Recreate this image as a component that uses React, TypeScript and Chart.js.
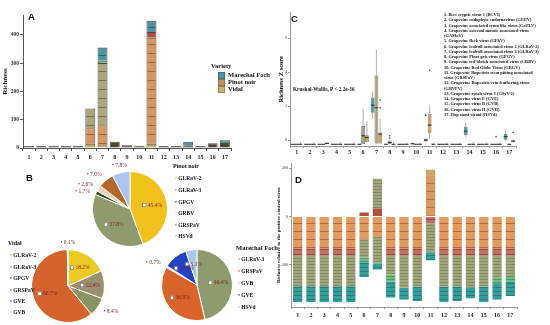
import React, { useEffect, useRef } from 'react';
import { Chart, registerables } from 'chart.js';

Chart.register(...registerables);

const SERIF = "'Liberation Serif', 'Times New Roman', serif";
const SANS = "'Liberation Sans', Arial, sans-serif";
Chart.defaults.font.family = SERIF;

const categories = ['1', '2', '3', '4', '5', '6', '7', '8', '9', '10', '11', '12', '13', '14', '15', '16', '17'];

// ---------- Panel A : richness, stacked layers (bottom -> top) ----------
const aBase = [4, 4, 8, 4, 6, 15, 10, 22, 10, 8, 15, 4, 6, 10, 7, 17, 18];
const aPinot = [0, 0, 0, 0, 0, 55, 70, 0, 0, 0, 375, 0, 0, 0, 0, 0, 0];
const aOlive = [0, 0, 0, 0, 0, 70, 220, 0, 0, 0, 0, 0, 0, 0, 0, 0, 0];
const aGreenBand = [0, 0, 0, 0, 0, 0, 8, 0, 0, 0, 0, 0, 0, 0, 0, 0, 0];
const aRedBand = [0, 0, 0, 0, 0, 0, 0, 0, 0, 0, 20, 0, 0, 0, 0, 0, 0];
const aFoch = [0, 0, 0, 0, 0, 0, 47, 0, 0, 0, 40, 0, 0, 12, 0, 0, 9];
const aYTicks = [0, 100, 200, 300, 400];
const varietyNames = ['Marechal Foch', 'Pinot noir', 'Vidal'];

// ---------- Panel B : pies ----------
const pinotViruses = ['GLRaV-2', 'GLRaV-3', 'GPGV', 'GRBV', 'GRSPaV', 'HSVd'];
const pinotShare = [45.4, 37.8, 1.7, 2.6, 7.0, 7.8];
const pinotLabels = ['45.4%', '37.8%', '1.7%', '2.6%', '7.0%', '7.8%'];
const vidalViruses = ['GLRaV-2', 'GLRaV-3', 'GPGV', 'GRSPaV', 'GVE', 'GVB'];
const vidalShare = [18.2, 12.4, 8.4, 60.7, 0.2, 0.1];
const vidalLabels = ['18.2%', '12.4%', '8.4%', '60.7%', '', '0.1%'];
const fochSliceViruses = ['GLRaV-3', 'GRSPaV', 'GVE', 'GVB', 'HSVd'];
const fochShare = [46.4, 36.9, 0.7, 10.9, 5.1];
const fochLabels = ['46.4%', '36.9%', '0.7%', '10.9%', '5.1%'];
const fochLegend = ['GLRaV-3', 'GRSPaV', 'GVB', 'GVE', 'HSVd'];

// ---------- Panel C : Z score boxes ----------
const fochQ1 = [-0.25, -0.25, -0.25, -0.25, -0.25, -0.25, 1.6, -0.25, -0.25, -0.25, -0.08, -0.25, -0.25, 0.28, -0.25, -0.25, 0.02];
const fochQ3 = [-0.25, -0.25, -0.25, -0.25, -0.25, -0.25, 2.5, -0.25, -0.25, -0.18, 0.08, -0.25, -0.25, 0.8, -0.25, -0.25, 0.36];
const fochMed = [-0.25, -0.25, -0.25, -0.25, -0.25, -0.25, 2.05, -0.25, -0.25, -0.22, 0.0, -0.25, -0.25, 0.52, -0.25, -0.25, 0.2];
const fochLo = [-0.25, -0.25, -0.25, -0.25, -0.25, -0.25, 1.25, -0.25, -0.25, -0.25, -0.1, -0.25, -0.25, 0.15, -0.25, -0.25, -0.05];
const fochHi = [-0.25, -0.25, -0.25, -0.25, -0.25, -0.25, 2.85, -0.25, -0.25, -0.15, 0.12, -0.25, -0.25, 1.0, -0.25, -0.25, 0.55];
const fochOut = [[], [], [], [], [], [], [], [], [], [], [1.45], [], [], [], [], [], []];

const pinotQ1 = [-0.25, -0.25, -0.25, -0.25, -0.25, -0.25, -0.2, -0.22, -0.25, -0.25, 0.4, -0.25, -0.25, -0.25, -0.25, -0.25, -0.25];
const pinotQ3 = [-0.25, -0.25, -0.25, -0.25, -0.25, 0.82, 3.8, -0.05, -0.25, -0.25, 1.55, -0.25, -0.25, -0.25, -0.25, -0.25, -0.25];
const pinotMed = [-0.25, -0.25, -0.25, -0.25, -0.25, 0.25, 1.9, -0.15, -0.25, -0.25, 0.88, -0.25, -0.25, -0.25, -0.25, -0.25, -0.25];
const pinotLo = [-0.25, -0.25, -0.25, -0.25, -0.25, -0.25, -0.25, -0.25, -0.25, -0.25, 0.05, -0.25, -0.25, -0.25, -0.25, -0.25, -0.25];
const pinotHi = [-0.25, -0.25, -0.25, -0.25, -0.25, 1.85, 5.3, 0.0, -0.25, -0.25, 2.05, -0.25, -0.25, -0.25, -0.25, -0.25, -0.25];
const pinotOut = [[], [], [], [], [], [], [], [0.25, 0.12], [], [], [4.1], [], [], [], [], [0.2], []];

const vidalQ1 = [-0.25, -0.25, -0.25, -0.25, -0.25, -0.12, -0.2, -0.25, -0.25, -0.25, -0.25, -0.25, -0.25, -0.25, -0.25, -0.25, -0.12];
const vidalQ3 = [-0.25, -0.25, -0.15, -0.25, -0.25, 0.28, 0.45, -0.25, -0.25, -0.25, -0.25, -0.25, -0.25, -0.25, -0.25, -0.25, 0.0];
const vidalMed = [-0.25, -0.25, -0.2, -0.25, -0.25, 0.15, 0.35, -0.25, -0.25, -0.25, -0.25, -0.25, -0.25, -0.25, -0.25, -0.25, -0.06];
const vidalLo = [-0.25, -0.25, -0.25, -0.25, -0.25, -0.15, -0.25, -0.25, -0.25, -0.25, -0.25, -0.25, -0.25, -0.25, -0.25, -0.25, -0.15];
const vidalHi = [-0.12, -0.12, -0.12, -0.12, -0.12, 1.1, 1.25, -0.1, -0.15, -0.15, -0.15, -0.15, -0.15, -0.1, -0.15, -0.15, 0.05];
const vidalOut = [[], [], [], [], [], [], [2.35, 1.9], [], [], [], [], [], [], [], [], [], [0.45]];
const cYTicks = [0, 2, 4, 6];

const cLegendLines = [
  '1. Beet cryptic virus 1 (BCV1)',
  '2. Grapevine endophyte endornavirus (GEEV)',
  '3. Grapevine associated tymo like virus (GaTLV)',
  '4. Grapevine asteroid mosaic associated virus',
  '(GAMaV)',
  '5. Grapevine fleck virus (GFkV)',
  '6. Grapevine leafroll associated virus 2 (GLRaV-2)',
  '7. Grapevine leafroll associated virus 3 (GLRaV-3)',
  '8. Grapevine Pinot gris virus (GPGV)',
  '9. Grapevine red blotch associated virus (GRBV)',
  '10. Grapevine Red Globe Virus (GRGV)',
  '11. Grapevine Rupestris stem pitting associated',
  'virus (GRSPaV)',
  '12. Grapevine Rupestris vein feathering virus',
  '(GRVFV)',
  '13. Grapevine syrah virus 1 (GSyV-1)',
  '14. Grapevine virus E (GVE)',
  '15. Grapevine virus B (GVB)',
  '16. Grapevine virus H (GVH)',
  '17. Hop stunt viroid (HSVd)',
];

// ---------- Panel D : richness relative to positive control ----------
const dPosRed = [0, 0, 0, 0, 0, 17, 33, 0, 0, 0, 4, 0, 0, 0, 0, 0, 0];
const dPosOlive = [0, 0, 0, 0, 0, 0, 123, 0, 0, 0, 0, 0, 0, 0, 0, 0, 0];
const dPosOrange = [0, 0, 0, 0, 0, 0, 0, 0, 0, 0, 165, 0, 0, 0, 0, 0, 0];
const dPosKhaki = [0, 0, 0, 0, 0, 0, 0, 0, 0, 0, 25, 0, 0, 0, 0, 0, 0];
const dOrange = [-132, -132, -132, -132, -132, -95, -85, -132, -132, -132, 0, -132, -132, -132, -132, -132, -132];
const dRed = [-29, -29, -29, -29, -29, 0, 0, -29, -29, -29, -29, -29, -29, -29, -29, -29, -29];
const dOlive = [-128, -128, -128, -128, -128, -75, -105, -79, -134, -129, -119, -129, -129, -132, -129, -91, -86];
const dGreen = [0, 0, 0, 0, 0, -20, -7, -30, 0, 0, 0, 0, 0, 0, 0, -25, -24];
const dTeal = [-65, -65, -65, -65, -65, -61, -23, -66, -49, -60, -33, -64, -60, -46, -64, -67, -58];
const dYTicks = [-200, 0, 200];

// ---------- colours ----------
const virusColor: Record<string, string> = {
  'GLRaV-2': '#f0c21e',
  'GLRaV-3': '#8f9b6d',
  GPGV: '#2c4d1c',
  GRBV: '#f3cdb4',
  GRSPaV: '#d6642c',
  HSVd: '#aec4f2',
  GVE: '#2a48c8',
  GVB: '#e3c6d0',
};
const pinotColors = ['#f2c21c', '#8f9b6d', '#2c4d1c', '#f3cdb4', '#b46a2e', '#aec4f2'];
const vidalColors = ['#ecc923', '#9b8f6f', '#8a9460', '#d5642c', '#2a48c8', '#e6c9d2'];
const fochColors = ['#8e9b6c', '#d8642c', '#f4a8bc', '#2443c4', '#a9c9f2'];

function stripes(base: string, line: string, period: number, lw = 1): any {
  const c = document.createElement('canvas');
  c.width = 4;
  c.height = period;
  const g = c.getContext('2d');
  if (!g) return base;
  g.fillStyle = base;
  g.fillRect(0, 0, 4, period);
  g.fillStyle = line;
  g.fillRect(0, period - lw, 4, lw);
  return g.createPattern(c, 'repeat') || base;
}

const aTotals = aBase.map((v, i) => v + aPinot[i] + aOlive[i] + aGreenBand[i] + aRedBand[i] + aFoch[i]);

function buildA(cv: HTMLCanvasElement) {
  const common = {
    borderColor: 'rgba(55,45,30,0.85)',
    borderWidth: 1,
    categoryPercentage: 0.85,
    barPercentage: 0.96,
  };
  return new Chart(cv, {
    type: 'bar',
    data: {
      labels: categories,
      datasets: [
        { ...common, label: 'Vidal', data: aBase, minBarLength: 2, backgroundColor: (c: any) => (aTotals[c.dataIndex] < 30 ? '#4b4630' : '#c6aa5e') },
        { ...common, label: 'Pinot noir', data: aPinot, backgroundColor: stripes('#d8955d', '#a0603a', 9) },
        { ...common, label: 'Vidal (GLRaV-3)', data: aOlive, backgroundColor: stripes('#aaa67e', '#74704f', 9) },
        { ...common, label: 'band', data: aGreenBand, backgroundColor: '#7fc58a' },
        { ...common, label: 'band2', data: aRedBand, backgroundColor: '#b54a3c' },
        { ...common, label: 'Marechal Foch', data: aFoch, backgroundColor: stripes('#4a95a0', '#2c6670', 7) },
      ] as any,
    },
    options: {
      responsive: false,
      animation: false,
      layout: { padding: { left: 0, right: 44, top: 15, bottom: 0 } },
      plugins: { legend: { display: false }, tooltip: { enabled: false } },
      scales: {
        x: {
          stacked: true,
          grid: { drawOnChartArea: false, tickLength: 3, color: '#555' },
          border: { color: '#555' },
          ticks: { font: { family: SERIF, size: 6, weight: 'bold' }, color: '#222', padding: 3, maxRotation: 0, autoSkip: false },
          afterFit: (s: any) => { s.height = 17; },
        },
        y: {
          stacked: true,
          min: 0,
          max: 470,
          grid: { drawOnChartArea: false, tickLength: 3, color: '#555' },
          border: { color: '#555' },
          ticks: { font: { family: SERIF, size: 5.5, weight: 'bold' }, color: '#333', padding: 1 },
          afterBuildTicks: (s: any) => { s.ticks = aYTicks.map((v) => ({ value: v })); },
          title: { display: true, text: 'Richness', font: { family: SERIF, size: 7, weight: 'bold' }, color: '#111', padding: { top: 1, bottom: 0 } },
          afterFit: (s: any) => { s.width = 23; },
        },
      },
    } as any,
  });
}

const cStats = [
  { q1: fochQ1, q3: fochQ3, med: fochMed, lo: fochLo, hi: fochHi, out: fochOut },
  { q1: pinotQ1, q3: pinotQ3, med: pinotMed, lo: pinotLo, hi: pinotHi, out: pinotOut },
  { q1: vidalQ1, q3: vidalQ3, med: vidalMed, lo: vidalLo, hi: vidalHi, out: vidalOut },
];

const boxPlugin = {
  id: 'boxExtras',
  afterDatasetsDraw(chart: any) {
    const ctx = chart.ctx;
    const ys = chart.scales.y;
    const px = (v: number) => ys.getPixelForValue(v);
    const seg = (x1: number, y1: number, x2: number, y2: number) => {
      ctx.beginPath();
      ctx.moveTo(x1, y1);
      ctx.lineTo(x2, y2);
      ctx.stroke();
    };
    cStats.forEach((st, di) => {
      const meta = chart.getDatasetMeta(di);
      meta.data.forEach((bar: any, i: number) => {
        const { x, width } = bar.getProps(['x', 'width'], true);
        ctx.save();
        ctx.strokeStyle = '#8c8c8c';
        ctx.lineWidth = 0.7;
        if (st.hi[i] > st.q3[i]) seg(x, px(st.q3[i]), x, px(st.hi[i]));
        if (st.lo[i] < st.q1[i]) seg(x, px(st.q1[i]), x, px(st.lo[i]));
        ctx.strokeStyle = '#333';
        ctx.lineWidth = 1.1;
        seg(x - width / 2, px(st.med[i]), x + width / 2, px(st.med[i]));
        ctx.fillStyle = '#444';
        (st.out[i] as number[]).forEach((v) => {
          ctx.beginPath();
          ctx.arc(x, px(v), 0.8, 0, Math.PI * 2);
          ctx.fill();
        });
        ctx.restore();
      });
    });
  },
};

function buildC(cv: HTMLCanvasElement) {
  const common = { borderColor: 'rgba(60,60,60,0.8)', borderWidth: 0.7, categoryPercentage: 0.85, barPercentage: 1, borderSkipped: false };
  return new Chart(cv, {
    type: 'bar',
    data: {
      labels: categories,
      datasets: [
        { ...common, label: varietyNames[0], data: fochQ1.map((q, i) => [q, fochQ3[i]]), backgroundColor: 'rgba(40,135,150,0.85)' },
        { ...common, label: varietyNames[1], data: pinotQ1.map((q, i) => [q, pinotQ3[i]]), backgroundColor: (c: any) => (c.dataIndex === 10 ? '#d49a55' : '#a9a27c') },
        { ...common, label: varietyNames[2], data: vidalQ1.map((q, i) => [q, vidalQ3[i]]), backgroundColor: '#c9a953' },
      ] as any,
    },
    options: {
      responsive: false,
      animation: false,
      layout: { padding: { left: 0, right: 34, top: 12.5, bottom: 0 } },
      plugins: { legend: { display: false }, tooltip: { enabled: false } },
      scales: {
        x: {
          grid: { drawOnChartArea: false, tickLength: 2, color: '#999' },
          border: { color: '#999' },
          ticks: { font: { family: SERIF, size: 6, weight: 'bold' }, color: '#222', padding: 1, maxRotation: 0, autoSkip: false },
          afterFit: (s: any) => { s.height = 14; },
        },
        y: {
          min: -0.35,
          max: 7.5,
          grid: { drawOnChartArea: false, tickLength: 2, color: '#999' },
          border: { color: '#999' },
          ticks: { font: { family: SERIF, size: 4, weight: 'bold' }, color: '#777', padding: 1 },
          afterBuildTicks: (s: any) => { s.ticks = cYTicks.map((v) => ({ value: v })); },
          title: { display: true, text: 'Richness Z score', font: { family: SERIF, size: 6.5, weight: 'bold' }, color: '#111', padding: { top: 2, bottom: 0 } },
          afterFit: (s: any) => { s.width = 15; },
        },
      },
    } as any,
    plugins: [boxPlugin],
  });
}

function buildD(cv: HTMLCanvasElement) {
  const common = { borderWidth: 0, categoryPercentage: 0.75, barPercentage: 0.93 };
  return new Chart(cv, {
    type: 'bar',
    data: {
      labels: categories,
      datasets: [
        { ...common, label: 'p1', data: dPosRed, backgroundColor: '#b0503e' },
        { ...common, label: 'p2', data: dPosOlive, backgroundColor: stripes('#a2a57b', '#848a62', 3) },
        { ...common, label: 'p3', data: dPosOrange, backgroundColor: stripes('#dc9b5e', '#b8724a', 8) },
        { ...common, label: 'p4', data: dPosKhaki, backgroundColor: '#c9a95c' },
        { ...common, label: 'n1', data: dOrange, backgroundColor: stripes('#e29a5e', '#b4683e', 8) },
        { ...common, label: 'n2', data: dRed, backgroundColor: stripes('#c07060', '#9a4a3c', 5) },
        { ...common, label: 'n3', data: dOlive, backgroundColor: stripes('#a2a67c', '#848a62', 3) },
        { ...common, label: 'n4', data: dGreen, backgroundColor: stripes('#6cbf80', '#4c9a5e', 3) },
        { ...common, label: 'n5', data: dTeal, backgroundColor: stripes('#33a09c', '#2a7a7e', 4) },
      ] as any,
    },
    options: {
      responsive: false,
      animation: false,
      layout: { padding: { left: 0, right: 33, top: 2.6, bottom: 0 } },
      plugins: { legend: { display: false }, tooltip: { enabled: false } },
      scales: {
        x: {
          stacked: true,
          grid: { drawOnChartArea: false, tickLength: 2, color: '#999' },
          border: { color: '#999' },
          ticks: { font: { family: SERIF, size: 6, weight: 'bold' }, color: '#222', padding: 3, maxRotation: 0, autoSkip: false },
          afterFit: (s: any) => { s.height = 18; },
        },
        y: {
          stacked: true,
          min: -375,
          max: 220,
          grid: { drawOnChartArea: false, tickLength: 2, color: '#999' },
          border: { color: '#999' },
          ticks: { font: { family: SERIF, size: 4, weight: 'bold' }, color: '#777', padding: 1 },
          afterBuildTicks: (s: any) => { s.ticks = dYTicks.map((v) => ({ value: v })); },
          title: { display: true, text: 'Richness relative to the positive control virus', font: { family: SERIF, size: 5, weight: 'bold' }, color: '#111', padding: { top: 1, bottom: 0 } },
          afterFit: (s: any) => { s.width = 16; },
        },
      },
    } as any,
  });
}

function pieLabelPlugin(labels: string[], values: number[], threshold: number) {
  return {
    id: 'pieLabels',
    afterDatasetsDraw(chart: any) {
      const ctx = chart.ctx;
      const meta = chart.getDatasetMeta(0);
      const outs: any[] = [];
      meta.data.forEach((arc: any, i: number) => {
        const txt = labels[i];
        if (!txt) return;
        const { x, y, startAngle, endAngle, outerRadius } = arc.getProps(['x', 'y', 'startAngle', 'endAngle', 'outerRadius'], true);
        const mid = (startAngle + endAngle) / 2;
        if (values[i] >= threshold) {
          const r = outerRadius * 0.6;
          const cx = x + Math.cos(mid) * r;
          const cy = y + Math.sin(mid) * r;
          ctx.save();
          ctx.font = `5.5px ${SERIF}`;
          const w = ctx.measureText(txt).width;
          const left = cx - (w + 5.5) / 2;
          ctx.fillStyle = '#fff';
          ctx.fillRect(left, cy - 2, 4, 4);
          ctx.strokeStyle = '#555';
          ctx.lineWidth = 0.6;
          ctx.strokeRect(left + 0.3, cy - 1.7, 3.4, 3.4);
          ctx.fillStyle = '#7a1c1c';
          ctx.textBaseline = 'middle';
          ctx.textAlign = 'left';
          ctx.fillText(txt, left + 5.5, cy + 0.3);
          ctx.restore();
        } else {
          const rr = outerRadius + 7;
          const dx = Math.cos(mid) * rr;
          outs.push({ tx: x + dx, ty: y + Math.sin(mid) * rr, dx, r: outerRadius, txt });
        }
      });
      outs.sort((a, b) => a.ty - b.ty);
      for (let k = 1; k < outs.length; k++) {
        if (outs[k].ty - outs[k - 1].ty < 7) outs[k].ty = outs[k - 1].ty + 7;
      }
      ctx.save();
      ctx.font = `5.5px ${SERIF}`;
      ctx.textBaseline = 'middle';
      outs.forEach((o) => {
        ctx.textAlign = o.dx > 0.3 * o.r ? 'left' : o.dx < -0.3 * o.r ? 'right' : 'center';
        ctx.fillStyle = '#6a2a2a';
        ctx.fillText('\u2022 ' + o.txt, o.tx, o.ty);
      });
      ctx.restore();
    },
  };
}

function makePie(cv: HTMLCanvasElement, names: string[], values: number[], colors: string[], labels: string[], threshold: number, padding: any) {
  return new Chart(cv, {
    type: 'pie',
    data: { labels: names, datasets: [{ data: values, backgroundColor: colors, borderColor: '#ffffff', borderWidth: 1 }] },
    options: {
      responsive: false,
      animation: false,
      layout: { padding },
      plugins: { legend: { display: false }, tooltip: { enabled: false } },
    } as any,
    plugins: [pieLabelPlugin(labels, values, threshold)],
  });
}

const buildPinot = (cv: HTMLCanvasElement) => makePie(cv, pinotViruses, pinotShare, pinotColors, pinotLabels, 10, { left: 22, right: 22, top: 11, bottom: 13 });
const buildVidal = (cv: HTMLCanvasElement) => makePie(cv, vidalViruses, vidalShare, vidalColors, vidalLabels, 10, { left: 11, right: 20, top: 11, bottom: 2 });
const buildFoch = (cv: HTMLCanvasElement) => makePie(cv, fochSliceViruses, fochShare, fochColors, fochLabels, 5, { left: 21, right: 7, top: 11, bottom: 4 });

function ChartBox({ x, y, w, h, build }: { x: number; y: number; w: number; h: number; build: (cv: HTMLCanvasElement) => Chart }) {
  const ref = useRef<HTMLCanvasElement | null>(null);
  useEffect(() => {
    const cv = ref.current;
    if (!cv) return;
    const chart = build(cv);
    return () => chart.destroy();
  }, [build]);
  return <canvas ref={ref} width={w} height={h} style={{ position: 'absolute', left: x, top: y, width: w, height: h }} />;
}

function Txt({ x, y, size, children, bold = true, family = SERIF, color = '#111' }: any) {
  return (
    <div
      style={{
        position: 'absolute',
        left: x,
        top: y - size * 0.64,
        fontFamily: family,
        fontSize: size,
        fontWeight: bold ? 700 : 400,
        lineHeight: `${size * 1.2}px`,
        color,
        whiteSpace: 'nowrap',
      }}
    >
      {children}
    </div>
  );
}

function PieLegend({ x, y, title, titleSize, items, step }: { x: number; y: number; title: string; titleSize: number; items: string[]; step: number }) {
  return (
    <>
      <Txt x={x - 2} y={y} size={titleSize}>{title}</Txt>
      {items.map((name, i) => (
        <Txt key={name} x={x} y={y + 12 + i * step} size={5.5}>
          <span style={{ color: virusColor[name] || '#888' }}>{'\u2022'}</span>
          {' ' + name}
        </Txt>
      ))}
    </>
  );
}

const legendAColors = ['#4a96a0', '#c69061', '#cdb366'];

export default function App() {
  return (
    <div style={{ position: 'fixed', left: 0, top: 0, width: 550, height: 325, background: '#fff', overflow: 'hidden' }}>
      <ChartBox x={0} y={0} w={275} h={165} build={buildA} />
      <ChartBox x={275} y={0} w={275} h={160} build={buildC} />
      <ChartBox x={275} y={160} w={275} h={165} build={buildD} />
      <ChartBox x={70} y={160} w={120} h={100} build={buildPinot} />
      <ChartBox x={20} y={238} w={105} h={87} build={buildVidal} />
      <ChartBox x={140} y={238} w={100} h={87} build={buildFoch} />

      <Txt x={28} y={17.5} size={9.5} family={SANS}>A</Txt>
      <Txt x={26} y={178.5} size={9.5} family={SANS}>B</Txt>
      <Txt x={291} y={19.5} size={9.5} family={SANS}>C</Txt>
      <Txt x={295} y={180} size={9.5} family={SANS}>D</Txt>

      {/* Panel A legend */}
      <Txt x={211} y={66} size={6.5}>Variety</Txt>
      {varietyNames.map((name, i) => (
        <React.Fragment key={name}>
          <div style={{ position: 'absolute', left: 218, top: 72 + i * 7, width: 7, height: 7, background: legendAColors[i], boxShadow: 'inset 0 0 0 0.5px rgba(40,40,40,0.6)' }} />
          <Txt x={228} y={75.5 + i * 7} size={6.5}>{name}</Txt>
        </React.Fragment>
      ))}

      {/* Panel B legends */}
      <PieLegend x={175} y={167} title="Pinot noir" titleSize={6} items={pinotViruses} step={11.6} />
      <PieLegend x={10} y={244} title="Vidal" titleSize={6} items={vidalViruses} step={11.4} />
      <PieLegend x={238} y={248} title="Marechal Foch" titleSize={6.5} items={fochLegend} step={11.8} />

      {/* Panel C annotations */}
      <Txt x={293} y={89} size={5.3}>Kruskal-Wallis, P &lt; 2.2e-16</Txt>
      {cLegendLines.map((line, i) => (
        <Txt key={i} x={444} y={15 + i * 5.25} size={4.4}>{line}</Txt>
      ))}
    </div>
  );
}
